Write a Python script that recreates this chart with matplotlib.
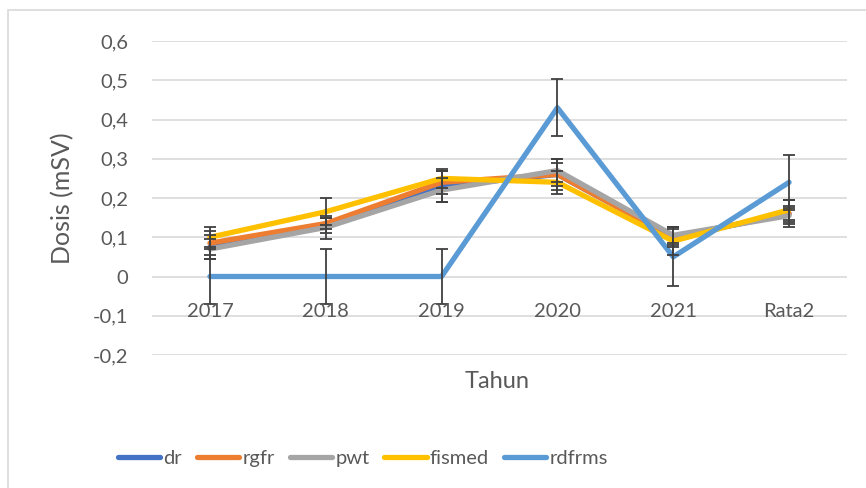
import matplotlib
matplotlib.use("Agg")
import matplotlib.pyplot as plt
from matplotlib.patches import Rectangle

categories = ["2017", "2018", "2019", "2020", "2021", "Rata2"]
series_names = ["dr", "rgfr", "pwt", "fismed", "rdfrms"]
dr = [0.075, 0.13, 0.23, 0.26, 0.10, 0.16]
rgfr = [0.085, 0.135, 0.24, 0.26, 0.10, 0.16]
pwt = [0.07, 0.125, 0.22, 0.27, 0.105, 0.155]
fismed = [0.10, 0.165, 0.25, 0.24, 0.09, 0.17]
rdfrms = [0.0, 0.0, 0.0, 0.43, 0.05, 0.24]
dr_err = [0.03, 0.02, 0.04, 0.03, 0.02, 0.02]
rgfr_err = [0.03, 0.015, 0.03, 0.04, 0.025, 0.035]
pwt_err = [0.025, 0.03, 0.03, 0.03, 0.02, 0.02]
fismed_err = [0.025, 0.035, 0.025, 0.03, 0.035, 0.025]
rdfrms_err = [0.07, 0.07, 0.07, 0.073, 0.075, 0.07]
y_ticks = [-0.2, -0.1, 0, 0.1, 0.2, 0.3, 0.4, 0.5, 0.6]

values = [dr, rgfr, pwt, fismed, rdfrms]
errors = [dr_err, rgfr_err, pwt_err, fismed_err, rdfrms_err]
colors = ["#4472C4", "#ED7D31", "#A5A5A5", "#FFC000", "#5B9BD5"]

plt.rcParams['font.family'] = ['Lato', 'DejaVu Sans']
fig = plt.figure(figsize=(8.66, 4.88), dpi=100)
fig.patches.append(Rectangle((8/866, -0.05), 1.2, 1 - 10/488 + 0.05, transform=fig.transFigure,
                             fill=False, edgecolor="#D9D9D9", linewidth=1.2, zorder=0))
ax = fig.add_axes([152/866, 1 - 355/488, (847 - 152)/866, (355 - 41)/488])
x = list(range(len(categories)))
ax.set_xlim(-0.5, len(categories) - 0.5)
ax.set_ylim(-0.2, 0.6)
ax.set_yticks(y_ticks)
ax.set_yticklabels([("%.1f" % t).replace(".", ",") if t != 0 else "0" for t in y_ticks])
ax.tick_params(axis='y', length=0, pad=17, labelsize=14.5, labelcolor="#595959")
ax.set_xticks([])
ax.grid(axis='y', color="#D9D9D9", linewidth=1.2)
ax.set_axisbelow(True)
for s in ax.spines.values():
    s.set_visible(False)

for name, v, e, c in zip(series_names, values, errors, colors):
    ax.plot(x, v, color=c, linewidth=3.8, label=name, solid_capstyle='round', zorder=3)
    ax.errorbar(x, v, yerr=e, fmt='none', ecolor="#404040", elinewidth=1.3,
                capsize=4, capthick=1.3, zorder=4)

for i, lab in enumerate(categories):
    ax.annotate(lab, (i, 0), xytext=(0, -35), textcoords='offset pixels',
                ha='center', va='center', fontsize=14.5, color="#595959", zorder=5)

fig.text(63/866, 1 - 198/488, "Dosis (mSV)", rotation=90, ha='center', va='center',
         fontsize=18, color="#595959")
fig.text(497/866, 1 - 381/488, "Tahun", ha='center', va='center',
         fontsize=17, color="#595959")

handles, labels = ax.get_legend_handles_labels()
fig.legend(handles, labels, loc='center left', bbox_to_anchor=(118/866, 1 - 458/488), ncol=5,
           frameon=False, fontsize=14.5, labelcolor="#595959", handlelength=2.1,
           handletextpad=0.15, columnspacing=0.75, borderpad=0, borderaxespad=0)

fig.savefig("out.png", dpi=100)
